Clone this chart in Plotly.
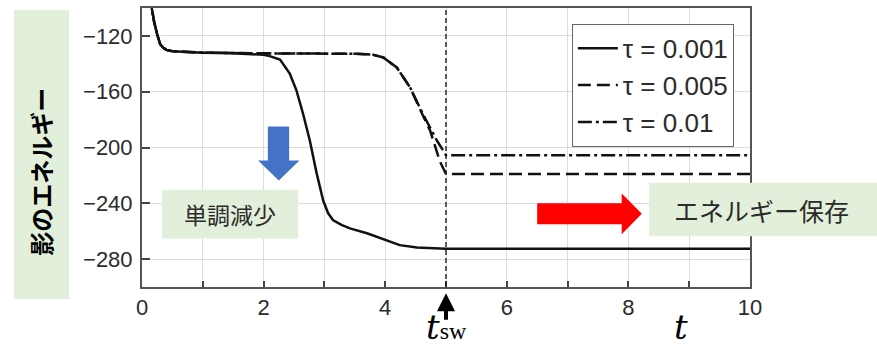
import plotly.graph_objects as go

# ---- data ----
t_a = [0.12, 0.16, 0.2, 0.25, 0.3, 0.35, 0.4, 0.5, 0.7, 1.0, 1.5, 1.8, 2.0, 2.1, 2.27, 2.43, 2.54, 2.65,
       2.76, 2.87, 2.98, 3.06, 3.14, 3.28, 3.42, 3.7, 3.97, 4.24, 4.52, 4.75, 5.0, 6.0, 8.0, 10.0]
e_a = [-90, -100, -110, -119, -126, -128.5, -130, -131, -131.5, -132, -132.5, -133, -133.5, -134.5, -137,
       -147, -159, -176, -195, -218, -238, -247, -252, -255.5, -258, -261.5, -266, -270, -271.7, -272.3,
       -272.5, -272.5, -272.5, -272.5]

t_b = [0.12, 0.16, 0.2, 0.25, 0.3, 0.35, 0.4, 0.5, 0.7, 1.0, 2.0, 3.0, 3.5, 3.8, 3.97, 4.19, 4.41, 4.62,
       4.74, 4.9, 4.98, 5.0, 6.0, 8.0, 10.0]
e_b = [-90, -100, -110, -119, -126, -128.5, -130, -131, -131.5, -132, -132.5, -132.5, -132.8, -133.5,
       -135.5, -142.6, -157, -177, -188, -210, -217, -219, -219, -219, -219]

t_c = [0.12, 0.16, 0.2, 0.25, 0.3, 0.35, 0.4, 0.5, 0.7, 1.0, 2.0, 3.0, 3.5, 3.8, 3.97, 4.19, 4.41, 4.62,
       4.85, 5.0, 6.0, 8.0, 10.0]
e_c = [-90, -100, -110, -119, -126, -128.5, -130, -131, -131.5, -132, -132.5, -132.5, -132.8, -133.5,
       -135.5, -142.6, -157, -176, -195, -205.5, -205.5, -205.5, -205.5]

series_names = ["τ = 0.001", "τ = 0.005", "τ = 0.01"]
x_ticks = [0, 2, 4, 6, 8, 10]
y_ticks = [-120, -160, -200, -240, -280]
t_switch = 5

GREEN = "#E2EFDA"
INK = "#111111"
LAB = "#2b2b2b"

fig = go.Figure()
fig.add_trace(go.Scatter(x=t_a, y=e_a, mode="lines", name=series_names[0],
                         line=dict(color=INK, width=2.5)))
fig.add_trace(go.Scatter(x=t_b, y=e_b, mode="lines", name=series_names[1],
                         line=dict(color=INK, width=2.5, dash="13px,6px")))
fig.add_trace(go.Scatter(x=t_c, y=e_c, mode="lines", name=series_names[2],
                         line=dict(color=INK, width=2.5, dash="14px,4px,3px,4px")))

shapes = []
# vertical switch line
shapes.append(dict(type="line", xref="x", yref="paper", x0=t_switch, x1=t_switch, y0=0, y1=1,
                   line=dict(color=INK, width=1.3, dash="5px,3px"), layer="above"))
# blue down arrow
shapes.append(dict(type="path", xref="x", yref="y",
                   path="M 2.07 -185 L 2.42 -185 L 2.42 -209.3 L 2.59 -209.3 L 2.25 -223.6 "
                        "L 1.91 -209.3 L 2.07 -209.3 Z",
                   fillcolor="#4472C4", line=dict(width=0), layer="above"))
# red right arrow
shapes.append(dict(type="path", xref="x", yref="y",
                   path="M 6.50 -240 L 7.89 -240 L 7.89 -232.9 L 8.22 -247.5 L 7.89 -262.1 "
                        "L 7.89 -255 L 6.50 -255 Z",
                   fillcolor="#FF0000", line=dict(width=0), layer="above"))
# green label boxes
shapes.append(dict(type="rect", xref="paper", yref="paper", x0=-0.2105, x1=-0.12, y0=-0.043, y1=0.993,
                   fillcolor=GREEN, line=dict(width=0), layer="above"))
shapes.append(dict(type="rect", xref="paper", yref="paper", x0=0.033, x1=0.257, y0=0.174, y1=0.349,
                   fillcolor=GREEN, line=dict(width=0), layer="above"))
shapes.append(dict(type="rect", xref="paper", yref="paper", x0=0.834, x1=1.215, y0=0.1815, y1=0.3737,
                   fillcolor=GREEN, line=dict(width=0), layer="above"))

C = dict(xanchor="center", yanchor="middle", showarrow=False)
annotations = [
    dict(text="<b>影のエネルギー</b>", xref="paper", yref="paper", x=-0.166, y=0.413,
         textangle=-90, font=dict(family="Noto Sans CJK JP", size=24, color="#000000"), **C),
    dict(text="単調減少", xref="paper", yref="paper", x=0.145, y=0.2616,
         font=dict(family="Noto Sans CJK JP", size=23, color=LAB), **C),
    dict(text="エネルギー保存", xref="paper", yref="paper", x=1.0197, y=0.2776,
         font=dict(family="Noto Sans CJK JP", size=25, color=LAB), **C),
    # t_sw label with arrow
    dict(text="<i>t</i><span style='font-family:Liberation Serif;font-size:24px'>sw</span>",
         xref="x", yref="paper", x=t_switch, y=-0.145,
         font=dict(family="DejaVu Serif", size=34, color="#000000"), **C),
    dict(text="", xref="x", yref="paper", x=t_switch, y=-0.022, ax=0, ay=28,
         axref="pixel", ayref="pixel", showarrow=True, arrowhead=2, arrowsize=0.9, arrowwidth=4,
         arrowcolor="#000000"),
    dict(text="<i>t</i>", xref="paper", yref="paper", x=0.887, y=-0.145,
         font=dict(family="DejaVu Serif", size=34, color="#000000"), **C),
]

fig.update_layout(
    width=877, height=351,
    margin=dict(l=142, r=127, t=6, b=64),
    paper_bgcolor="white", plot_bgcolor="white",
    font=dict(family="Liberation Sans", color=LAB),
    showlegend=True,
    legend=dict(x=0.707, y=0.943, xanchor="left", yanchor="top", bgcolor="white",
                bordercolor="#666666", borderwidth=1, font=dict(size=26, color=LAB),
                tracegroupgap=0, itemwidth=40),
    shapes=shapes, annotations=annotations,
    xaxis=dict(range=[0, 10], tickmode="array", tickvals=x_ticks, ticks="inside", ticklen=6,
               tickcolor="#444", tickwidth=1.5, showgrid=True, gridcolor="#dcdcdc", gridwidth=1,
               showline=True, linecolor="#555", linewidth=2, mirror=True, zeroline=False,
               tickfont=dict(size=22, color=LAB), ticklabelstandoff=0,
               minor=dict(dtick=1, tick0=0, ticks="inside", ticklen=6, tickcolor="#444",
                          showgrid=True, gridcolor="#dcdcdc")),
    yaxis=dict(range=[-300, -100], tickmode="array", tickvals=y_ticks, ticks="inside", ticklen=8,
               tickcolor="#444", tickwidth=1.5, showgrid=True, gridcolor="#dcdcdc", gridwidth=1,
               showline=True, linecolor="#555", linewidth=2, mirror=True, zeroline=False,
               tickfont=dict(size=22, color=LAB), ticklabelstandoff=3),
)

fig.write_html("out.html", config={"displayModeBar": False},
               post_script="document.body.style.margin='0px';")
